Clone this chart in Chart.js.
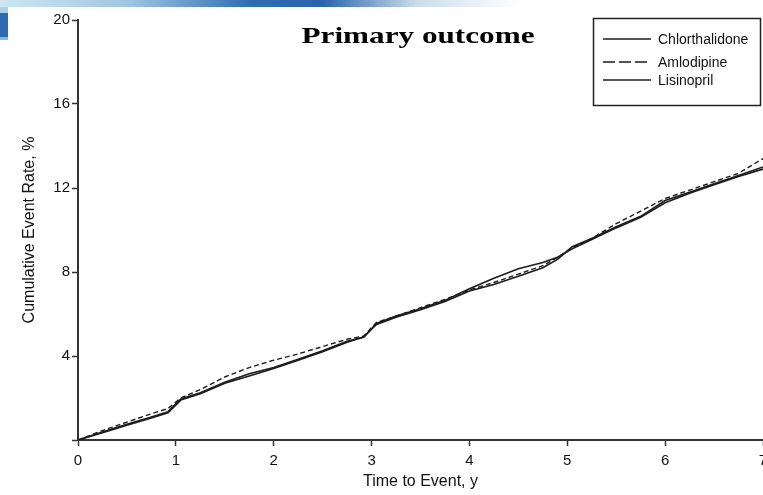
<!DOCTYPE html>
<html>
<head>
<meta charset="utf-8">
<title>Primary outcome</title>
<script src="https://cdn.jsdelivr.net/npm/chart.js@4.4.1/dist/chart.umd.min.js"></script>
<style>
  html, body { margin: 0; padding: 0; background: #ffffff; }
  #wrap { width: 763px; height: 495px; }
</style>
</head>
<body>
<div id="wrap"><canvas id="c" width="763" height="495"></canvas></div>
<script>
// Follow-up time (years) and cumulative event rate (%) for each treatment arm
const years          = [0, 0.25, 0.5, 0.75, 0.92, 1.05, 1.25, 1.5, 1.75, 2.0, 2.25, 2.5, 2.75, 2.92, 3.05, 3.25, 3.5, 3.75, 4.0, 4.25, 4.5, 4.75, 4.9, 5.05, 5.25, 5.5, 5.75, 6.0, 6.25, 6.5, 6.75, 7.0];
const chlorthalidone = [0, 0.35, 0.70, 1.05, 1.30, 1.90, 2.20, 2.70, 3.05, 3.40, 3.80, 4.20, 4.65, 4.90, 5.50, 5.85, 6.20, 6.60, 7.10, 7.40, 7.80, 8.20, 8.60, 9.20, 9.60, 10.15, 10.65, 11.40, 11.80, 12.20, 12.60, 13.00];
const amlodipine     = [0, 0.45, 0.85, 1.25, 1.50, 2.00, 2.40, 3.00, 3.45, 3.80, 4.10, 4.45, 4.80, 4.95, 5.60, 5.90, 6.30, 6.70, 7.15, 7.50, 7.90, 8.30, 8.70, 9.15, 9.60, 10.30, 10.90, 11.50, 11.90, 12.30, 12.70, 13.40];
const lisinopril     = [0, 0.38, 0.75, 1.10, 1.35, 1.95, 2.25, 2.75, 3.15, 3.45, 3.85, 4.25, 4.70, 4.90, 5.55, 5.90, 6.25, 6.65, 7.20, 7.70, 8.15, 8.45, 8.70, 9.10, 9.55, 10.10, 10.60, 11.30, 11.75, 12.15, 12.55, 12.90];

const xTicks = [0, 1, 2, 3, 4, 5, 6, 7];
const yTicks = [0, 4, 8, 12, 16, 20];

const INK = '#1c1c1c';
const AXIS = '#333333';
const SANS = "'Liberation Sans', Arial, Helvetica, sans-serif";

function series(values) {
  return years.map((t, i) => ({ x: t, y: values[i] }));
}

// Slide background: white panel with the blue swoosh along the top-left edge
const slideBackground = {
  id: 'slideBackground',
  beforeDraw(chart) {
    const ctx = chart.ctx;
    ctx.save();
    ctx.fillStyle = '#ffffff';
    ctx.fillRect(0, 0, chart.width, chart.height);

    const band = ctx.createLinearGradient(0, 0, 520, 0);
    band.addColorStop(0.00, '#cfe6f1');
    band.addColorStop(0.25, '#9fc6e2');
    band.addColorStop(0.48, '#2f6db3');
    band.addColorStop(0.62, '#2a64ac');
    band.addColorStop(0.80, '#c9dcec');
    band.addColorStop(1.00, '#ffffff');
    ctx.fillStyle = band;
    ctx.fillRect(0, 0, 520, 7);

    ctx.fillStyle = '#a9d0e6';
    ctx.fillRect(0, 7, 8, 6);
    ctx.fillStyle = '#2b69b0';
    ctx.fillRect(0, 13, 8, 24);
    ctx.fillStyle = '#8fb6da';
    ctx.fillRect(0, 37, 8, 3);
    ctx.restore();
  }
};

// Heading and boxed legend drawn over the plot
const headingAndKey = {
  id: 'headingAndKey',
  afterDraw(chart) {
    const ctx = chart.ctx;
    ctx.save();

    // Heading
    ctx.fillStyle = '#000000';
    ctx.font = "bold 24px 'Liberation Serif', 'Times New Roman', serif";
    ctx.textAlign = 'center';
    ctx.textBaseline = 'alphabetic';
    ctx.translate(418, 43);
    ctx.scale(1.3, 1);
    ctx.fillText('Primary outcome', 0, 0);
    ctx.setTransform(1, 0, 0, 1, 0, 0);

    // Legend box
    ctx.strokeStyle = '#222222';
    ctx.lineWidth = 1.5;
    ctx.strokeRect(593.5, 18.5, 167, 87);

    const rows = [39, 62, 80];
    const keyDash = [[], [12, 4], []];
    ctx.font = '14px ' + SANS;
    ctx.textAlign = 'left';
    ctx.textBaseline = 'middle';
    chart.data.datasets.forEach((ds, i) => {
      const y = rows[i];
      ctx.beginPath();
      ctx.setLineDash(keyDash[i]);
      ctx.strokeStyle = INK;
      ctx.lineWidth = 1.4;
      ctx.moveTo(603, y);
      ctx.lineTo(651, y);
      ctx.stroke();
      ctx.setLineDash([]);
      ctx.fillStyle = '#111111';
      ctx.fillText(ds.label, 658, y + 1);
    });
    ctx.restore();
  }
};

const tickFont = { family: SANS, size: 15 };
const titleFont = { family: SANS, size: 16 };

new Chart(document.getElementById('c').getContext('2d'), {
  type: 'line',
  data: {
    datasets: [
      { label: 'Chlorthalidone', data: series(chlorthalidone), borderColor: INK, borderWidth: 1.6, pointRadius: 0, tension: 0, fill: false },
      { label: 'Amlodipine', data: series(amlodipine), borderColor: INK, borderWidth: 1.4, borderDash: [5, 3], pointRadius: 0, tension: 0, fill: false },
      { label: 'Lisinopril', data: series(lisinopril), borderColor: INK, borderWidth: 1.6, pointRadius: 0, tension: 0, fill: false }
    ]
  },
  options: {
    responsive: false,
    animation: false,
    devicePixelRatio: 1,
    layout: { padding: { top: 20, left: 0, right: 0, bottom: 0 } },
    plugins: {
      legend: { display: false },
      title: { display: false },
      tooltip: { enabled: false }
    },
    scales: {
      x: {
        type: 'linear',
        min: 0,
        max: 7,
        afterBuildTicks: (scale) => { scale.ticks = xTicks.map(v => ({ value: v })); },
        afterFit: (scale) => { scale.height = 55; scale.paddingLeft = 0; scale.paddingRight = 0; },
        ticks: { font: tickFont, color: '#111111', padding: 6, maxRotation: 0, autoSkip: false },
        grid: { drawOnChartArea: false, drawTicks: true, tickLength: 6, tickColor: AXIS, tickWidth: 1.5 },
        border: { display: true, color: AXIS, width: 2 },
        title: { display: true, text: 'Time to Event, y', font: titleFont, color: '#111111', padding: { top: 0, bottom: 4 } }
      },
      y: {
        type: 'linear',
        min: 0,
        max: 20,
        afterBuildTicks: (scale) => { scale.ticks = yTicks.map(v => ({ value: v })); },
        afterFit: (scale) => { scale.width = 78; scale.paddingTop = 0; scale.paddingBottom = 0; },
        ticks: { font: tickFont, color: '#111111', padding: 2, callback: (v) => (v === 0 ? '' : String(v)) },
        grid: { drawOnChartArea: false, drawTicks: true, tickLength: 6, tickColor: AXIS, tickWidth: 1.5 },
        border: { display: true, color: AXIS, width: 2 },
        title: { display: true, text: 'Cumulative Event Rate, %', font: titleFont, color: '#111111', padding: { top: 20, bottom: 0 } }
      }
    }
  },
  plugins: [slideBackground, headingAndKey]
});
</script>
</body>
</html>
